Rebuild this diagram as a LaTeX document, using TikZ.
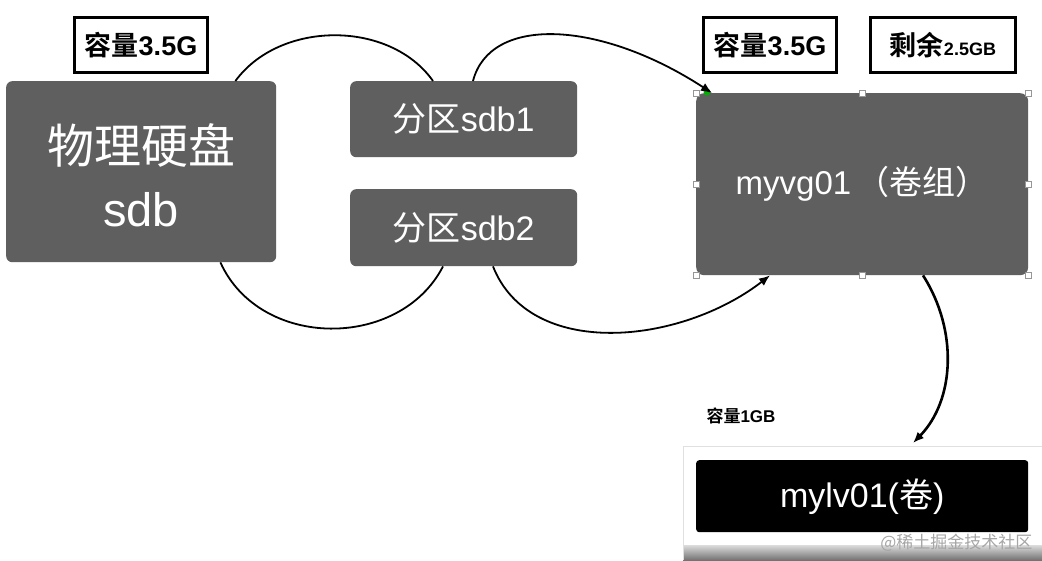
\documentclass[tikz,border=0pt]{standalone}
\usepackage{fontspec}
\setmainfont{Liberation Sans}
\newfontfamily\cjk{Noto Sans CJK SC}[BoldFont={Noto Sans CJK SC Bold}]
\usetikzlibrary{arrows.meta,calc,shadings}
\definecolor{boxgray}{RGB}{95,95,95}
\definecolor{handle}{RGB}{150,150,150}
\tikzset{
  graybox/.style={fill=boxgray, rounded corners=6pt, text=white, inner sep=0pt},
  blackbox/.style={fill=black, rounded corners=3pt, text=white, inner sep=0pt},
  tagbox/.style={draw=black, line width=3pt, fill=white, inner sep=0pt, font=\bfseries},
  conn/.style={line width=1.8pt, black},
  arr/.style={conn, -{Latex[length=11pt,width=9pt]}},
  hdl/.style={draw=handle, fill=white, line width=0.6pt, minimum size=6pt, inner sep=0pt},
}
\begin{document}
\begin{tikzpicture}[x=1pt,y=-1pt]
\useasboundingbox (0,0) rectangle (1042,560);
\fill[white] (0,0) rectangle (1042,560);
% panel behind logical volume
\shade[top color=white, bottom color=black!55] (683,540) rectangle (1042,560);
\fill[white] (683,446) rectangle (1042,545);
\draw[black!12, line width=1pt] (683,560) -- (683,446) -- (1042,446);
% nodes
\node[graybox, minimum width=270pt, minimum height=181pt, anchor=north west] (disk) at (6,81) {};
\node[text=white, font=\fontsize{47}{63}\selectfont, align=center] (disklbl) at (141,175) {{\cjk 物理硬盘}\\sdb};
\node[graybox, minimum width=227pt, minimum height=76pt, anchor=north west, font=\fontsize{34}{38}\selectfont] (p1) at (350,81) {{\cjk 分区}sdb1};
\node[graybox, minimum width=227pt, minimum height=77pt, anchor=north west, font=\fontsize{34}{38}\selectfont] (p2) at (350,189) {{\cjk 分区}sdb2};
\node[graybox, rounded corners=8pt, minimum width=332pt, minimum height=182pt, anchor=north west, font=\fontsize{33}{38}\selectfont] (vg) at (696,93) {myvg01\,{\cjk （卷组）}};
\node[blackbox, minimum width=332pt, minimum height=72pt, anchor=north west, font=\fontsize{34}{38}\selectfont] (lv) at (696,460) {mylv01({\cjk 卷})};
% tags
\node[tagbox, minimum width=133pt, minimum height=55pt, anchor=north west, font=\bfseries\fontsize{27}{30}\selectfont] (t1) at (73,16) {{\cjk\bfseries 容量}3.5G};
\node[tagbox, minimum width=133pt, minimum height=55pt, anchor=north west, font=\bfseries\fontsize{27}{30}\selectfont] (t2) at (702,16) {{\cjk\bfseries 容量}3.5G};
\node[tagbox, minimum width=145pt, minimum height=55pt, anchor=north west] (t3) at (869,16) {{\cjk\bfseries\fontsize{27}{30}\selectfont 剩余}{\bfseries\fontsize{18}{20}\selectfont 2.5GB}};
\node[font=\bfseries\fontsize{17}{20}\selectfont, anchor=west] (t4) at (703,416) {{\cjk\bfseries 容量}1GB};
% selection handles
\foreach \p in {north west,north,north east,west,east,south west,south,south east}
  \node[hdl] at (vg.\p) {};
\fill[green!70!black] (707,92) circle (3.5pt);
% connectors
\coordinate (a1) at ([xshift=-41pt]disk.north east);
\coordinate (a2) at ([xshift=83pt]p1.north west);
\coordinate (a3) at ([xshift=123pt]p1.north west);
\coordinate (a4) at ([xshift=16pt]vg.north west);
\draw[conn] (a1) .. controls (280,20) and (390,20) .. (a2);
\draw[arr] (a3) .. controls (490,15) and (600,20) .. (a4);
\coordinate (b1) at ([xshift=-56pt]disk.south east);
\coordinate (b2) at ([xshift=93pt]p2.south west);
\coordinate (b3) at ([xshift=143pt]p2.south west);
\coordinate (b4) at ([xshift=74pt]vg.south west);
\draw[conn] (b1) .. controls (260,350) and (400,350) .. (b2);
\draw[arr] (b3) .. controls (530,360) and (680,345) .. (b4);
\coordinate (c1) at ([xshift=227pt]vg.south west);
\coordinate (c2) at ([xshift=217pt,yshift=17pt]lv.north west);
\draw[arr, line width=2.6pt] (c1) .. controls (958,330) and (955,400) .. (c2);
% watermark
\node[text=black!35, font=\fontsize{17}{20}\selectfont, anchor=east] (wm) at (1036,543) {\cjk @稀土掘金技术社区};
\end{tikzpicture}
\end{document}
